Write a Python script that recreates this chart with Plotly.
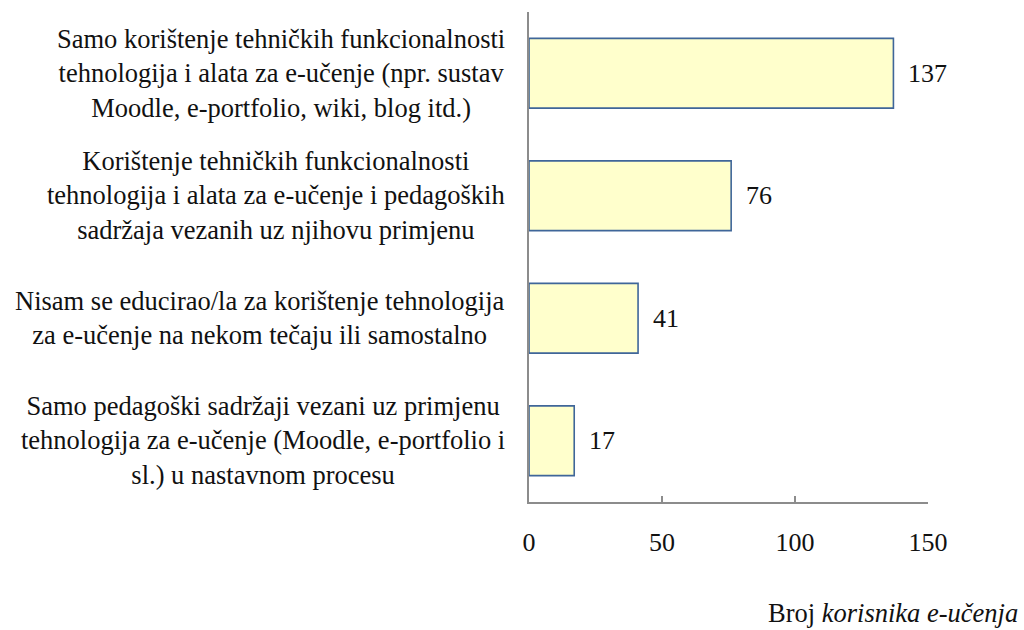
import plotly.graph_objects as go

# Survey answers (top to bottom) and number of respondents per answer
categories = [
    "Samo korištenje tehničkih funkcionalnosti<br>tehnologija i alata za e-učenje (npr. sustav<br>Moodle, e-portfolio, wiki, blog itd.)",
    "Korištenje tehničkih funkcionalnosti<br>tehnologija i alata za e-učenje i pedagoških<br>sadržaja vezanih uz njihovu primjenu",
    "Nisam se educirao/la za korištenje tehnologija<br>za e-učenje na nekom tečaju ili samostalno",
    "Samo pedagoški sadržaji vezani uz primjenu<br>tehnologija za e-učenje (Moodle, e-portfolio i<br>sl.) u nastavnom procesu",
]
counts = [137, 76, 41, 17]
x_ticks = [0, 50, 100, 150]
axis_title = "Broj <i>korisnika e-učenja</i>"

FONT = "Liberation Serif"
AXIS_GREY = "#8c8c8c"
TEXT = "#111111"

fig = go.Figure(
    go.Bar(
        x=counts,
        y=categories,
        orientation="h",
        marker=dict(color="#FFFFCC", line=dict(color="#3F6699", width=1.6)),
        hoverinfo="x",
    )
)

# Value labels to the right of each bar
for cat, val in zip(categories, counts):
    fig.add_annotation(
        x=val, y=cat, xref="x", yref="y",
        text=str(val), showarrow=False,
        xanchor="left", yanchor="middle", xshift=13,
        font=dict(family=FONT, size=26, color=TEXT),
    )

# Centered multi-line category labels left of the axis
for cat in categories:
    fig.add_annotation(
        x=0, y=cat, xref="paper", yref="y",
        text=cat, showarrow=False, align="center",
        xanchor="right", yanchor="middle", xshift=-22,
        font=dict(family=FONT, size=26.5, color=TEXT),
    )

# Axis title at the bottom right
fig.add_annotation(
    x=1.2306, y=-0.2265, xref="paper", yref="paper",
    text=axis_title, showarrow=False,
    xanchor="right", yanchor="middle",
    font=dict(family=FONT, size=26.5, color=TEXT),
)

fig.update_layout(
    width=1024, height=630,
    margin=dict(l=529, r=96, t=12, b=128),
    paper_bgcolor="white", plot_bgcolor="white",
    showlegend=False,
    bargap=0.43,
    font=dict(family=FONT, size=26, color=TEXT),
    xaxis=dict(
        range=[0, 150],
        tickvals=x_ticks,
        ticktext=[str(v) for v in x_ticks],
        showgrid=False, zeroline=False,
        showline=True, linecolor=AXIS_GREY, linewidth=1.6,
        ticks="inside", ticklen=6, tickwidth=1.6, tickcolor=AXIS_GREY,
        ticklabelstandoff=16,
        tickfont=dict(family=FONT, size=26, color=TEXT),
    ),
    yaxis=dict(
        categoryorder="array", categoryarray=categories[::-1],
        showticklabels=False, showgrid=False, zeroline=False,
        showline=True, linecolor=AXIS_GREY, linewidth=1.6,
        ticks="",
    ),
)

fig.write_html("out.html")
